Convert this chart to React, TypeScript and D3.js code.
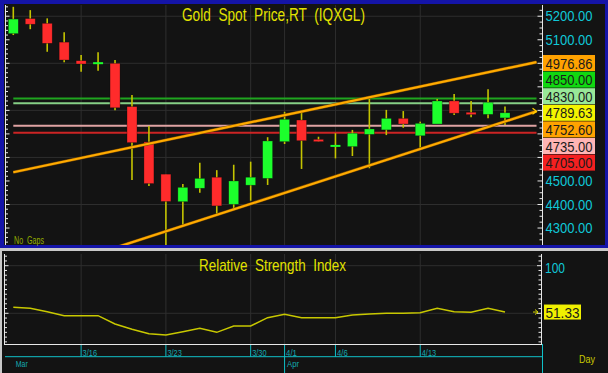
import React from "react";
import * as d3 from "d3";

// ---------- data ----------
const dates = ["3/10","3/11","3/12","3/13","3/16","3/17","3/18","3/19","3/20","3/23","3/24","3/25","3/26","3/27","3/30","3/31","4/1","4/2","4/3","4/6","4/7","4/8","4/9","4/10","4/13","4/14","4/15","4/16","4/17","4/20"];
const opens = [5126,5190,5170,5090,5011,5000,5000,4816,4666,4529,4412,4469,4516,4401,4482,4511,4667,4759,4677,4648,4646,4698,4717,4766,4692,4742,4840,4792,4783,4768];
const highs = [5240,5226,5191,5132,5035,5047,5014,4865,4734,4529,4487,4577,4546,4569,4582,4686,4794,4799,4688,4703,4717,4850,4802,4797,4752,4848,4870,4840,4890,4816];
const lows = [5120,5145,5049,5004,4964,4968,4801,4504,4479,4218,4304,4450,4355,4382,4416,4483,4657,4551,4667,4596,4606,4554,4695,4726,4639,4742,4780,4771,4766,4738];
const closes = [5188,5166,5085,5014,4997,5001,4811,4663,4489,4413,4473,4511,4394,4500,4516,4670,4762,4671,4667,4650,4703,4721,4766,4742,4745,4840,4788,4782,4834,4789.63];
const rsiValues = [56.3,55.2,51.7,47.5,47.5,47.5,38.8,33.2,28.6,27.2,30.7,34.2,30,36.7,36.7,45.4,49,45.4,45.4,45.4,48.2,49.3,50,50,50.6,55.2,51.7,51,55.2,51.33];

const weekLabels = ["3/16","3/23","3/30","4/1","4/6","4/13"];
const monthLabels = [{ label: "Mar", date: "3/10" }, { label: "Apr", date: "4/1" }];
const priceTicks = [5200,5100,5000,4900,4800,4700,4600,4500,4400,4300];
const gridPrices = [4400,4600,4800,5000,5200];
const rsiGrid = [50,100];
const rsiTickLabels = [100];

const hLevels = [4850, 4830, 4735, 4705];
const hLevelColors = ["#1fa51f", "#86cf86", "#dfa3a3", "#cc2424"];
const upperTrend = [[0, 4537], [29, 4976.86]];
const lowerTrend = [[6, 4216], [29, 4752.6]];
const trendExtendTo = 30.86;

const lastClose = 4789.63;
const upperTrendLast = 4976.86;
const lowerTrendLast = 4752.6;
const lastRsi = 51.33;

// ---------- layout ----------
const W = 608, H = 373;
const plotL = 6, plotR = 542, plotT = 5, plotB = 245;
const rsiT = 254, rsiB = 344;

const x = d3.scaleLinear().domain([0, 29]).range([13.3, 505]);
const y = d3.scaleLinear().domain([4400, 5000]).range([204.5, 63.3]);
const yR = d3.scaleLinear().domain([50, 100]).range([313.3, 265.7]);

const FONT = "'Liberation Sans', Arial, sans-serif";
const idx = (d: string) => dates.indexOf(d);

function trendPath(p: number[][]) {
  const [[i0, v0], [i1, v1]] = p;
  const slope = (v1 - v0) / (i1 - i0);
  const vEnd = v1 + slope * (trendExtendTo - i1);
  let iStart = i0, vStart = v0;
  const vBottom = y.invert(plotB + 2);
  if (v0 > vBottom && i0 > 0) {
    iStart = i0 - (v0 - vBottom) / slope;
    vStart = vBottom;
  }
  return { x1: x(iStart), y1: y(vStart), x2: x(trendExtendTo), y2: y(vEnd) };
}

type Lab = { v: number; text: string; fill: string };
function stackLabels(labels: Lab[], anchorV: number, h: number) {
  const sorted = labels.map((l) => ({ ...l, yy: y(l.v) })).sort((a, b) => a.yy - b.yy);
  const ai = sorted.findIndex((l) => l.v === anchorV);
  for (let i = ai - 1; i >= 0; i--) sorted[i].yy = Math.min(sorted[i].yy, sorted[i + 1].yy - h);
  for (let i = ai + 1; i < sorted.length; i++) sorted[i].yy = Math.max(sorted[i].yy, sorted[i - 1].yy + h);
  return sorted;
}

export default function App() {
  const ut = trendPath(upperTrend);
  const lt = trendPath(lowerTrend);
  const boxH = 16, step = 16.6;
  const labels = stackLabels(
    [
      { v: upperTrendLast, text: "4976.86", fill: "#ffa200" },
      { v: hLevels[0], text: "4850.00", fill: "#10d810" },
      { v: hLevels[1], text: "4830.00", fill: "#98e898" },
      { v: lastClose, text: "4789.63", fill: "#f4f400" },
      { v: lowerTrendLast, text: "4752.60", fill: "#ffa200" },
      { v: hLevels[2], text: "4735.00", fill: "#ffb4b4" },
      { v: hLevels[3], text: "4705.00", fill: "#f42020" },
    ],
    lastClose,
    step
  );
  const stackTop = labels[0].yy - boxH / 2;
  const stackBot = labels[labels.length - 1].yy + boxH / 2;
  const visiblePriceTicks = priceTicks.filter((p) => {
    const yy = y(p);
    return yy + 7 < stackTop || yy - 7 > stackBot;
  });
  const leftTicks = d3.range(4240, 5241, 20);
  const rightTicks = d3.range(4250, 5241, 25);
  const rsiTicks = d3.range(20, 111, 5);

  const rsiLine = d3
    .line<number>()
    .x((_, i) => x(i))
    .y((d) => yR(d))
    .curve(d3.curveLinear)(rsiValues) as string;

  return (
    <div style={{ position: "fixed", left: 0, top: 0, width: W, height: H }}>
      <svg width={W} height={H} style={{ display: "block", fontFamily: FONT }}>
        <defs>
          <clipPath id="mainClip">
            <rect x={plotL} y={plotT} width={plotR - plotL} height={plotB - plotT} />
          </clipPath>
        </defs>
        {/* frame */}
        <rect x={0} y={0} width={W} height={H} fill="#c8c8c8" />
        <rect x={0} y={0} width={W} height={248} fill="#1414a8" />
        <rect x={4} y={4} width={601} height={241} fill="#131313" />
        <rect x={2} y={251} width={W - 2} height={H - 251} fill="#131313" />

        {/* main grid */}
        {gridPrices.map((p) => (
          <line key={p} x1={plotL} x2={plotR} y1={y(p)} y2={y(p)} stroke="#2e2e2e" strokeWidth={1} />
        ))}
        {weekLabels.map((d) => (
          <line key={d} x1={x(idx(d))} x2={x(idx(d))} y1={plotT} y2={plotB} stroke="#2e2e2e" strokeWidth={1} />
        ))}

        <g clipPath="url(#mainClip)">
          {hLevels.map((v, i) => (
            <line key={v} x1={x(0)} x2={x(trendExtendTo)} y1={y(v)} y2={y(v)} stroke={hLevelColors[i]} strokeWidth={2} />
          ))}
          {dates.map((d, i) => {
            const o = opens[i], c = closes[i];
            const up = c >= o;
            const top = y(Math.max(o, c));
            const bot = y(Math.min(o, c));
            const col = up ? "#1cff2c" : "#ff2b2b";
            const cx = x(i);
            return (
              <g key={d}>
                <line x1={cx} x2={cx} y1={y(highs[i])} y2={y(lows[i])} stroke="#c4c400" strokeWidth={1.6} />
                {bot - top < 2 ? (
                  <rect x={cx - 5} y={(top + bot) / 2 - 1} width={10} height={2} fill={col} />
                ) : (
                  <rect x={cx - 5} y={top} width={10} height={bot - top} fill={col} stroke="#0a0a0a" strokeOpacity={0.5} strokeWidth={0.6} />
                )}
              </g>
            );
          })}
          {[ut, lt].map((t, i) => (
            <g key={i}>
              <line {...t} stroke="#7a4a00" strokeWidth={3.2} />
              <line {...t} stroke="#ffab00" strokeWidth={2.2} />
            </g>
          ))}
          <path d={`M${lt.x2 - 4},${lt.y2 - 3} L${lt.x2},${lt.y2} L${lt.x2 - 4},${lt.y2 + 3}`} fill="none" stroke="#ffd000" strokeWidth={1.2} />
        </g>

        {/* left axis */}
        <line x1={5.5} x2={5.5} y1={plotT} y2={plotB} stroke="#e8e8e8" strokeWidth={1} />
        {leftTicks.map((v) => (
          <line key={v} x1={5.5} x2={v % 100 === 0 ? 9.5 : 8} y1={y(v)} y2={y(v)} stroke="#e8e8e8" strokeWidth={1} />
        ))}
        {/* right axis */}
        <line x1={542.5} x2={542.5} y1={plotT} y2={plotB} stroke="#e8e8e8" strokeWidth={1} />
        {rightTicks.map((v) => (
          <line key={v} x1={542.5} x2={v % 100 === 0 ? 537.5 : 539.5} y1={y(v)} y2={y(v)} stroke="#e8e8e8" strokeWidth={1} />
        ))}
        {visiblePriceTicks.map((p) => (
          <text key={p} x={545.5} y={y(p) + 5} fontSize={14} fill="#10c8d8" textLength={47} lengthAdjust="spacingAndGlyphs">
            {p.toFixed(2)}
          </text>
        ))}
        {labels.map((l) => (
          <g key={l.text}>
            <rect x={543} y={l.yy - boxH / 2} width={52} height={boxH} fill={l.fill} />
            <text x={545.5} y={l.yy + 5.5} fontSize={14} fill="#1a1a1a" textLength={47} lengthAdjust="spacingAndGlyphs">
              {l.text}
            </text>
          </g>
        ))}

        {/* titles */}
        <text x={182} y={21} fontSize={18} fill="#e2e200" textLength={183} lengthAdjust="spacingAndGlyphs" style={{ whiteSpace: "pre" }}>
          {"Gold  Spot  Price,RT  (IQXGL)"}
        </text>
        <text x={14} y={244} fontSize={10} fill="#94ae00" textLength={30} lengthAdjust="spacingAndGlyphs" style={{ whiteSpace: "pre" }}>
          {"No  Gaps"}
        </text>

        {/* RSI panel */}
        {rsiGrid.map((v) => (
          <line key={v} x1={5} x2={542} y1={yR(v)} y2={yR(v)} stroke="#2e2e2e" strokeWidth={1} />
        ))}
        {weekLabels.map((d) => (
          <line key={d} x1={x(idx(d))} x2={x(idx(d))} y1={rsiT} y2={rsiB} stroke="#2e2e2e" strokeWidth={1} />
        ))}
        <path d={rsiLine} fill="none" stroke="#c8c800" strokeWidth={1.5} />
        <line x1={4.5} x2={4.5} y1={rsiT} y2={rsiB} stroke="#e8e8e8" strokeWidth={1} />
        {rsiTicks.map((v) => (
          <line key={"l" + v} x1={4.5} x2={v % 50 === 0 ? 8.5 : 7} y1={yR(v)} y2={yR(v)} stroke="#e8e8e8" strokeWidth={1} />
        ))}
        <line x1={4} x2={543} y1={rsiB + 0.5} y2={rsiB + 0.5} stroke="#e8e8e8" strokeWidth={1} />
        <line x1={541.5} x2={541.5} y1={rsiT} y2={rsiB} stroke="#e8e8e8" strokeWidth={1} />
        {rsiTicks.map((v) => (
          <line key={"r" + v} x1={541.5} x2={v % 50 === 0 ? 537 : 538.5} y1={yR(v)} y2={yR(v)} stroke="#e8e8e8" strokeWidth={1} />
        ))}
        {rsiTickLabels.map((v) => (
          <text key={v} x={545} y={yR(v) + 7} fontSize={15} fill="#10c8d8" textLength={20} lengthAdjust="spacingAndGlyphs">
            {v}
          </text>
        ))}
        <path d={`M${535},${yR(lastRsi) - 2.5} L${538},${yR(lastRsi)} L${535},${yR(lastRsi) + 2.5} M${533},${yR(lastRsi)} L${538},${yR(lastRsi)}`} fill="none" stroke="#d8d800" strokeWidth={1} />
        <rect x={544} y={yR(lastRsi) - 7.5} width={37} height={15} fill="#f0f000" />
        <text x={545.5} y={yR(lastRsi) + 5.5} fontSize={15} fill="#1a1a1a" textLength={34} lengthAdjust="spacingAndGlyphs">
          {lastRsi.toFixed(2)}
        </text>
        <text x={199} y={270.7} fontSize={17} fill="#e2e200" textLength={147} lengthAdjust="spacingAndGlyphs" style={{ whiteSpace: "pre" }}>
          {"Relative  Strength  Index"}
        </text>

        {/* time axis */}
        <line x1={5} x2={542.5} y1={356.7} y2={356.7} stroke="#10c0c8" strokeWidth={1} />
        <line x1={542.5} x2={542.5} y1={rsiB} y2={H} stroke="#10c0c8" strokeWidth={1} />
        {weekLabels.map((d) => {
          const xx = x(idx(d));
          const isMonth = monthLabels.some((m) => m.date === d);
          return (
            <g key={d}>
              <line x1={xx} x2={xx} y1={rsiB + 1} y2={isMonth ? H : 356.7} stroke="#10c0c8" strokeWidth={1} />
              <text x={xx + 1.5} y={355.5} fontSize={8.5} fill="#14a8b0" textLength={d.length * 3.6} lengthAdjust="spacingAndGlyphs">
                {d}
              </text>
            </g>
          );
        })}
        {monthLabels.map((m) => (
          <text key={m.label} x={Math.max(14, x(idx(m.date)) + 2.5)} y={367} fontSize={9} fill="#14a8b0" textLength={12} lengthAdjust="spacingAndGlyphs">
            {m.label}
          </text>
        ))}
        <text x={579} y={363} fontSize={11} fill="#c8c800" textLength={16} lengthAdjust="spacingAndGlyphs">
          Day
        </text>
      </svg>
    </div>
  );
}
